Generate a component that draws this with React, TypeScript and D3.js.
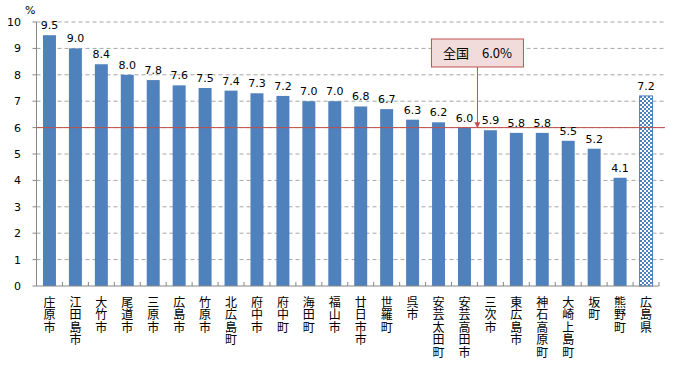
import React from "react";
import * as d3 from "d3";

const categories = [
  "庄原市", "江田島市", "大竹市", "尾道市", "三原市", "広島市", "竹原市", "北広島町",
  "府中市", "府中町", "海田町", "福山市", "廿日市市", "世羅町", "呉市", "安芸太田町",
  "安芸高田市", "三次市", "東広島市", "神石高原町", "大崎上島町", "坂町", "熊野町", "広島県",
];
const values = [
  9.5, 9.0, 8.4, 8.0, 7.8, 7.6, 7.5, 7.4, 7.3, 7.2, 7.0, 7.0, 6.8, 6.7, 6.3, 6.2,
  6.0, 5.9, 5.8, 5.8, 5.5, 5.2, 4.1, 7.2,
];
const yTicks = [0, 1, 2, 3, 4, 5, 6, 7, 8, 9, 10];
const nationalValue = 6.0;
const nationalLabel = "全国　6.0%";

const width = 690;
const height = 365;
const margin = { left: 36.5, right: 31, top: 22, bottom: 79 };

const App = () => {
  const x = d3
    .scaleBand<string>()
    .domain(categories)
    .range([margin.left, width - margin.right])
    .paddingInner(0.5)
    .paddingOuter(0.25);
  const y = d3.scaleLinear().domain([0, 10]).range([height - margin.bottom, margin.top]);

  const step = x.step();
  const x0 = margin.left;
  const x1 = width - margin.right;
  const gridRight = x1 + 6;
  const arrowX = x0 + step * 17;
  const lineY = y(nationalValue);
  const boxW = 92;
  const boxH = 28;
  const boxY = 39;

  const numFont = "'DejaVu Sans', Verdana, sans-serif";
  const jpFont = "'Noto Sans CJK JP', sans-serif";

  return (
    <svg
      width={width}
      height={height}
      style={{ position: "absolute", left: 0, top: 0, background: "#fff" }}
    >
      <defs>
        <pattern id="check" width={4} height={4} patternUnits="userSpaceOnUse">
          <rect width={4} height={4} fill="#ffffff" />
          <rect width={2} height={2} fill="#4f81bd" />
          <rect x={2} y={2} width={2} height={2} fill="#4f81bd" />
        </pattern>
        <marker id="arrow" viewBox="0 0 10 10" refX={9} refY={5} markerWidth={6} markerHeight={6} orient="auto">
          <path d="M0,0 L10,5 L0,10 z" fill="#c0504d" />
        </marker>
      </defs>

      {/* grid */}
      {yTicks.filter((t) => t > 0).map((t) => (
        <line
          key={"g" + t}
          x1={x0}
          x2={gridRight}
          y1={y(t)}
          y2={y(t)}
          stroke="#a6a6a6"
          strokeDasharray="4,3"
        />
      ))}

      {/* bars */}
      {categories.map((c, i) => (
        <rect
          key={c}
          x={x(c)}
          y={y(values[i])}
          width={x.bandwidth()}
          height={y(0) - y(values[i])}
          fill={i === categories.length - 1 ? "url(#check)" : "#4f81bd"}
          stroke={i === categories.length - 1 ? "#4f81bd" : "none"}
          strokeWidth={1}
        />
      ))}

      {/* national line */}
      <line x1={x0} x2={gridRight} y1={lineY} y2={lineY} stroke="#c0504d" strokeWidth={1} />

      {/* axes */}
      <line x1={x0} x2={x0} y1={y(10)} y2={y(0)} stroke="#868686" />
      <line x1={x0} x2={x1} y1={y(0)} y2={y(0)} stroke="#868686" />
      {yTicks.map((t) => (
        <g key={"y" + t}>
          <line x1={x0 - 4} x2={x0} y1={y(t)} y2={y(t)} stroke="#868686" />
          <text x={21} y={y(t) + 4} textAnchor="end" fontSize={11} fontFamily={numFont} fill="#000">
            {t}
          </text>
        </g>
      ))}
      {d3.range(categories.length + 1).map((i) => (
        <line
          key={"xt" + i}
          x1={x0 + step * i}
          x2={x0 + step * i}
          y1={y(0) - 4}
          y2={y(0)}
          stroke="#868686"
        />
      ))}
      <text x={25} y={14} fontSize={11} fontFamily={numFont} fill="#000">%</text>

      {/* value labels */}
      {categories.map((c, i) => (
        <text
          key={"v" + c}
          x={(x(c) ?? 0) + x.bandwidth() / 2}
          y={y(values[i]) - 6}
          textAnchor="middle"
          fontSize={11}
          fontFamily={numFont}
          fill="#000"
        >
          {values[i].toFixed(1)}
        </text>
      ))}

      {/* category labels, vertical */}
      {categories.map((c) => (
        <text
          key={"c" + c}
          x={(x(c) ?? 0) + x.bandwidth() / 2}
          y={296}
          fontSize={12}
          fontFamily={jpFont}
          fill="#000"
          style={{ writingMode: "vertical-rl", letterSpacing: "0.5px" }}
        >
          {c}
        </text>
      ))}

      {/* callout */}
      <line
        x1={arrowX}
        x2={arrowX}
        y1={boxY + boxH}
        y2={lineY}
        stroke="#c0504d"
        markerEnd="url(#arrow)"
      />
      <rect
        x={arrowX - 46}
        y={boxY}
        width={boxW}
        height={boxH}
        fill="#f2dcdb"
        stroke="#c0504d"
      />
      <text
        x={arrowX}
        y={boxY + boxH / 2 + 5}
        textAnchor="middle"
        fontSize={13}
        fontFamily={jpFont}
        fill="#000"
      >
        {nationalLabel}
      </text>
    </svg>
  );
};

export default App;
